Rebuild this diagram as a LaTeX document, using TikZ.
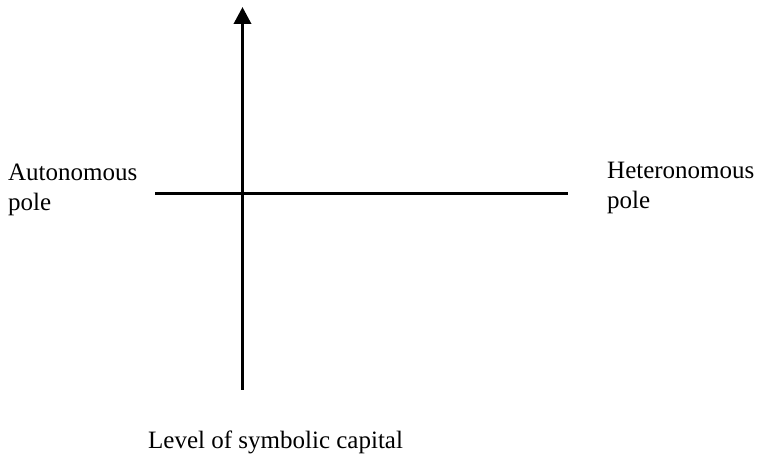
\documentclass[tikz,border=0pt]{standalone}
\usepackage{fontspec}
\setmainfont{Liberation Serif}
\usetikzlibrary{arrows.meta}
\begin{document}
\begin{tikzpicture}[x=1pt,y=1pt,
  axis/.style={line width=3.5pt},
  lbl/.style={font=\fontsize{25}{30}\selectfont, inner sep=0pt, align=left, anchor=base west}]
\useasboundingbox (0,0) rectangle (762,454);
\coordinate (vb) at (242.5,64);
\coordinate (vt) at (242.5,447);
\coordinate (hl) at (155,260.5);
\coordinate (hr) at (568,260.5);
\draw[axis,-{Triangle[width=17pt,length=17pt]}] (vb) -- (vt);
\draw[axis] (hl) -- (hr);
\node[lbl] (auto) at (8,243) {Autonomous\\pole};
\node[lbl] (hetero) at (607,245) {Heteronomous\\pole};
\node[lbl] (level) at (148,5) {Level of symbolic capital};
\end{tikzpicture}
\end{document}
